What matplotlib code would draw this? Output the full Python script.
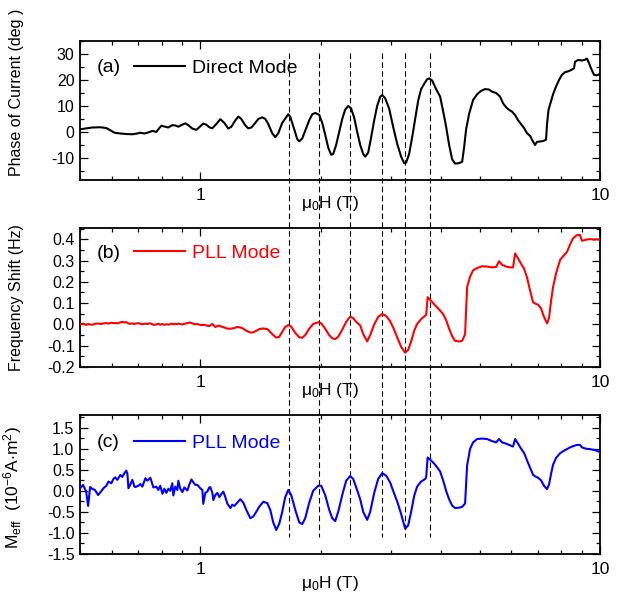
import matplotlib
matplotlib.use("Agg")
import matplotlib.pyplot as plt
from matplotlib.lines import Line2D
from matplotlib import transforms
from matplotlib.ticker import MultipleLocator, FixedLocator, NullFormatter, FormatStrFormatter

# ---------------- data ----------------
# (a) phase of the current, direct mode
field_direct = [
    0.500, 0.515, 0.536, 0.562, 0.582, 0.596, 0.610, 0.631, 0.653, 0.676,
    0.695, 0.708, 0.724, 0.741, 0.759, 0.776, 0.785, 0.799, 0.817, 0.831,
    0.851, 0.866, 0.881, 0.901, 0.917, 0.933, 0.955, 0.977, 0.994, 1.017,
    1.035, 1.053, 1.071, 1.096, 1.122, 1.148, 1.175, 1.196, 1.224, 1.245,
    1.266, 1.296, 1.318, 1.342, 1.373, 1.397, 1.429, 1.454, 1.480, 1.513,
    1.540, 1.567, 1.603, 1.660, 1.679, 1.718, 1.748, 1.768, 1.799, 1.830,
    1.873, 1.906, 1.939, 1.984, 2.018, 2.053, 2.089, 2.125, 2.150, 2.187,
    2.225, 2.265, 2.304, 2.345, 2.385, 2.426, 2.469, 2.512, 2.556, 2.585,
    2.630, 2.676, 2.723, 2.770, 2.818, 2.851, 2.900, 2.968, 3.037, 3.108,
    3.180, 3.236, 3.273, 3.330, 3.389, 3.448, 3.508, 3.568, 3.631, 3.694,
    3.737, 3.802, 3.890, 3.981, 4.050, 4.121, 4.193, 4.266, 4.340, 4.441,
    4.519, 4.571, 4.624, 4.705, 4.814, 4.927, 5.041, 5.158, 5.278, 5.370,
    5.496, 5.623, 5.721, 5.821, 5.922, 6.026, 6.131, 6.238, 6.346, 6.457,
    6.569, 6.683, 6.760, 6.878, 6.958, 7.079, 7.202, 7.328, 7.370, 7.434,
    7.499, 7.630, 7.763, 7.898, 8.035, 8.175, 8.317, 8.463, 8.610, 8.660,
    8.811, 9.016, 9.173, 9.280, 9.387, 9.495, 9.661, 9.829, 10.00,
]
phase_deg = [
    1.0, 1.3, 1.7, 1.8, 1.5, 0.6, -0.3, -0.6, -0.8, -0.9,
    -0.6, -0.3, -0.6, -0.2, 0.4, 0.0, 1.0, 2.4, 2.0, 1.7,
    2.6, 2.5, 2.0, 2.8, 3.3, 2.6, 1.3, 0.8, 1.8, 3.2,
    2.8, 1.8, 1.4, 3.0, 4.9, 3.5, 1.3, 2.0, 4.5, 5.9,
    5.0, 2.5, 1.4, 1.7, 3.5, 5.0, 5.6, 5.0, 3.0, -0.5,
    -2.0, -0.5, 3.5, 6.8, 5.8, 1.0, -2.8, -3.6, -2.5, 0.5,
    4.5, 6.8, 7.3, 6.6, 3.5, -1.0, -6.0, -8.8, -8.5, -5.0,
    0.0, 5.0, 8.6, 10.0, 9.0, 5.5, 0.0, -5.0, -8.5, -9.5,
    -8.0, -2.0, 4.5, 10.0, 13.5, 14.2, 13.0, 9.0, 2.0, -4.5,
    -9.5, -12.0, -11.8, -8.5, -2.0, 5.0, 12.0, 16.5, 18.5, 20.3,
    20.6, 19.8, 16.5, 13.6, 8.0, 2.0, -5.0, -10.5, -12.2, -12.0,
    -11.5, -6.0, 1.0, 7.0, 12.3, 14.5, 15.8, 16.5, 16.3, 15.5,
    15.0, 13.6, 11.0, 9.5, 8.5, 7.8, 6.5, 4.5, 3.0, 1.5,
    -0.5, -1.5, -3.0, -5.0, -3.8, -3.7, -3.5, -3.0, 3.0, 8.5,
    10.5, 14.5, 17.5, 20.0, 22.0, 23.0, 23.3, 23.8, 24.5, 27.0,
    27.7, 27.5, 27.8, 28.2, 26.5, 24.5, 22.0, 21.8, 22.3,
]

# (b), (c) PLL mode: frequency shift and effective moment
field_pll = [
    0.500, 0.509, 0.518, 0.524, 0.530, 0.536, 0.545, 0.555, 0.566, 0.572,
    0.582, 0.589, 0.599, 0.606, 0.613, 0.620, 0.631, 0.638, 0.646, 0.653,
    0.657, 0.661, 0.668, 0.676, 0.684, 0.688, 0.700, 0.708, 0.716, 0.729,
    0.737, 0.750, 0.759, 0.763, 0.776, 0.785, 0.794, 0.804, 0.813, 0.822,
    0.832, 0.841, 0.851, 0.856, 0.866, 0.876, 0.881, 0.891, 0.902, 0.912,
    0.928, 0.939, 0.950, 0.961, 0.972, 0.983, 1.000, 1.012, 1.017, 1.029,
    1.041, 1.053, 1.059, 1.072, 1.078, 1.090, 1.103, 1.116, 1.128, 1.142,
    1.155, 1.168, 1.189, 1.202, 1.216, 1.237, 1.259, 1.281, 1.303, 1.334,
    1.357, 1.380, 1.404, 1.437, 1.471, 1.496, 1.522, 1.549, 1.576, 1.603,
    1.631,
    1.660, 1.688, 1.728, 1.768, 1.799, 1.830, 1.873, 1.916, 1.972, 2.007,
    2.053, 2.101, 2.138, 2.175, 2.213, 2.265, 2.317, 2.371, 2.413, 2.455,
    2.512, 2.556, 2.615, 2.661, 2.723, 2.786, 2.851, 2.917, 2.985, 3.037,
    3.108, 3.180, 3.255, 3.311, 3.369, 3.428, 3.487, 3.568, 3.652, 3.673,
    3.705, 3.780, 3.868, 3.981, 4.050, 4.121, 4.193, 4.266, 4.340, 4.441,
    4.519, 4.597, 4.650, 4.732, 4.814, 4.927, 5.070, 5.218, 5.370, 5.496,
    5.591, 5.689, 5.821, 5.957, 6.060, 6.131, 6.238, 6.346, 6.457, 6.569,
    6.683, 6.800, 6.918, 6.998, 7.120, 7.244, 7.370, 7.456, 7.542, 7.630,
    7.763, 7.943, 8.082, 8.270, 8.414, 8.561, 8.760, 8.913, 9.016, 9.226,
    9.441, 9.661, 9.829, 10.00,
]
freq_shift_hz = [
    0.000, 0.004, -0.002, 0.002, 0.000, -0.002, 0.003, 0.004, 0.002, 0.005,
    0.006, 0.004, 0.008, 0.006, 0.007, 0.005, 0.010, 0.012, 0.009, 0.011,
    0.008, 0.004, 0.003, 0.005, 0.002, 0.004, 0.006, 0.003, 0.001, 0.004,
    0.002, 0.005, 0.001, -0.002, 0.000, 0.003, -0.001, 0.002, -0.002, 0.001,
    -0.001, 0.002, 0.004, 0.000, 0.003, 0.001, 0.004, 0.002, 0.000, 0.003,
    0.006, 0.009, 0.007, 0.003, 0.001, 0.002, -0.002, -0.004, -0.001, -0.003,
    -0.006, -0.008, -0.004, 0.002, -0.002, -0.012, -0.008, -0.006, -0.010, -0.013,
    -0.016, -0.020, -0.020, -0.019, -0.017, -0.012, -0.014, -0.020, -0.030, -0.038,
    -0.037, -0.030, -0.022, -0.019, -0.022, -0.035, -0.050, -0.062, -0.058, -0.035,
    -0.012,
    -0.003, -0.010, -0.040, -0.060, -0.063, -0.050, -0.020, 0.002, 0.010, 0.005,
    -0.020, -0.050, -0.065, -0.069, -0.058, -0.025, 0.012, 0.036, 0.030, 0.012,
    -0.005, -0.045, -0.080, -0.050, 0.000, 0.035, 0.049, 0.040, 0.015, -0.014,
    -0.060, -0.105, -0.133, -0.120, -0.080, -0.030, 0.002, 0.025, 0.041, 0.045,
    0.128, 0.110, 0.090, 0.065, 0.049, 0.020, -0.020, -0.055, -0.077, -0.080,
    -0.077, -0.046, 0.175, 0.225, 0.254, 0.265, 0.273, 0.272, 0.268, 0.270,
    0.297, 0.280, 0.272, 0.268, 0.268, 0.333, 0.310, 0.285, 0.262, 0.220,
    0.160, 0.104, 0.096, 0.093, 0.075, 0.035, 0.005, 0.030, 0.110, 0.175,
    0.240, 0.302, 0.320, 0.341, 0.375, 0.405, 0.420, 0.420, 0.393, 0.398,
    0.401, 0.398, 0.400, 0.397,
]
m_eff = [
    0.06, 0.14, -0.02, -0.36, 0.09, 0.05, 0.02, -0.10, 0.00, 0.06,
    0.12, 0.22, 0.18, 0.28, 0.32, 0.26, 0.38, 0.33, 0.42, 0.48,
    0.40, 0.06, 0.15, 0.26, 0.10, 0.09, 0.12, 0.16, 0.10, 0.30,
    0.24, 0.31, 0.15, 0.08, 0.10, 0.02, 0.12, -0.07, 0.05, -0.05,
    0.05, 0.00, 0.18, -0.11, 0.10, 0.02, 0.24, 0.05, -0.03, 0.08,
    0.01, 0.15, 0.27, 0.20, 0.14, 0.14, 0.06, 0.02, -0.31, -0.05,
    -0.02, 0.08, 0.09, -0.05, -0.22, -0.10, -0.05, -0.15, -0.08, -0.02,
    -0.15, -0.30, -0.41, -0.33, -0.36, -0.28, -0.20, -0.28, -0.45, -0.65,
    -0.61, -0.50, -0.38, -0.26, -0.29, -0.45, -0.75, -0.93, -0.78, -0.50,
    -0.15,
    0.02, -0.10, -0.45, -0.75, -0.79, -0.65, -0.28, 0.00, 0.12, 0.12,
    -0.10, -0.45, -0.65, -0.72, -0.50, -0.10, 0.24, 0.35, 0.28, 0.08,
    -0.20, -0.50, -0.69, -0.50, -0.05, 0.28, 0.42, 0.36, 0.20, 0.00,
    -0.25, -0.55, -0.90, -0.82, -0.50, -0.12, 0.10, 0.22, 0.28, 0.32,
    0.79, 0.72, 0.62, 0.46, 0.25, 0.00, -0.20, -0.35, -0.41, -0.40,
    -0.38, -0.30, 0.60, 1.00, 1.15, 1.23, 1.24, 1.23, 1.18, 1.15,
    1.23, 1.15, 1.12, 1.08, 1.05, 1.23, 1.12, 1.00, 0.90, 0.72,
    0.55, 0.38, 0.33, 0.31, 0.25, 0.12, 0.04, 0.15, 0.40, 0.62,
    0.78, 0.89, 0.94, 0.99, 1.03, 1.06, 1.09, 1.09, 1.03, 1.00,
    0.99, 0.97, 0.95, 0.92,
]

# oscillation extrema marked across all panels
marker_fields = [1.666, 1.976, 2.371, 2.856, 3.254, 3.758]

panel_tags = ["(a)", "(b)", "(c)"]
legend_labels = ["Direct Mode", "PLL Mode", "PLL Mode"]
y_labels = ["Phase of Current (deg )", "Frequency Shift (Hz)",
            r"M$_{\rm eff}$  (10$^{-6}$A$\cdot$m$^{2}$)"]
x_label = r"μ$_0$H (T)"
x_tick_values = [1, 10]

# ---------------- styling ----------------
plt.rcParams['font.family'] = ['Liberation Sans', 'DejaVu Sans']
plt.rcParams['mathtext.fontset'] = 'custom'
plt.rcParams['mathtext.rm'] = 'Liberation Sans'
plt.rcParams['mathtext.it'] = 'Liberation Sans:italic'
plt.rcParams['mathtext.bf'] = 'Liberation Sans:bold'
plt.rcParams['axes.unicode_minus'] = False

fig = plt.figure(figsize=(6.23, 5.95), dpi=100)
fig.patch.set_facecolor('white')

L, W, H = 80 / 623, 520 / 623, 139 / 595
ax_a = fig.add_axes([L, 415 / 595, W, H])
ax_b = fig.add_axes([L, 228 / 595, W, H])
ax_c = fig.add_axes([L, 41 / 595, W, H])
axes = [ax_a, ax_b, ax_c]

series = [(field_direct, phase_deg, 'black'),
          (field_pll, freq_shift_hz, '#ff0000'),
          (field_pll, m_eff, '#0000ff')]
ylims = [(-18.5, 35), (-0.2, 0.453), (-1.5, 1.8)]
ymajor = [10, 0.1, 0.5]
yminor = [5, 0.05, 0.25]
yfmt = ['%d', '%.1f', '%.1f']
tag_y = [0.806, 0.82, 0.80]
xlab_y = [-0.17, -0.17, -0.215]
ylab_pos = [(-0.108, 0.63), (-0.108, 0.50), (-0.108, 0.48)]
ylab_size = [11.5, 11.5, 12.5]

minor_x = [0.5, 0.6, 0.7, 0.8, 0.9, 2, 3, 4, 5, 6, 7, 8, 9]

for i, ax in enumerate(axes):
    xs, ys, col = series[i]
    ax.set_facecolor('none')
    ax.plot(xs, ys, color=col, lw=1.5, label=legend_labels[i], zorder=3)
    ax.set_xscale('log')
    ax.set_xlim(0.5, 10)
    ax.set_ylim(*ylims[i])

    ax.xaxis.set_major_locator(FixedLocator(x_tick_values))
    ax.xaxis.set_major_formatter(FormatStrFormatter('%g'))
    ax.xaxis.set_minor_locator(FixedLocator(minor_x))
    ax.xaxis.set_minor_formatter(NullFormatter())
    ax.yaxis.set_major_locator(MultipleLocator(ymajor[i]))
    ax.yaxis.set_minor_locator(MultipleLocator(yminor[i]))
    ax.yaxis.set_major_formatter(FormatStrFormatter(yfmt[i]))

    ax.tick_params(which='both', direction='in', top=True, right=True, width=0.9)
    ax.tick_params(which='major', length=5.5)
    ax.tick_params(which='minor', length=3)
    ax.tick_params(axis='x', which='major', labelsize=12.5, pad=6)
    ax.tick_params(axis='y', which='major', labelsize=11.5, pad=4)
    for sp in ax.spines.values():
        sp.set_linewidth(1.3)

    ax.set_xlabel(x_label, fontsize=12.5)
    ax.xaxis.set_label_coords(0.48, xlab_y[i])
    ax.xaxis.label.set_verticalalignment('center')
    ax.set_ylabel(y_labels[i], fontsize=ylab_size[i])
    ax.yaxis.set_label_coords(*ylab_pos[i])

    ax.text(17 / 520, tag_y[i], panel_tags[i], transform=ax.transAxes,
            fontsize=14, va='center', ha='left', color='black')
    ax.legend(loc='center left', bbox_to_anchor=(54 / 520, tag_y[i]),
              frameon=False, fontsize=14, handlelength=2.6, handletextpad=0.4,
              borderpad=0, borderaxespad=0, labelcolor='linecolor')

# vertical dashed guide lines spanning all three panels
blend = transforms.blended_transform_factory(ax_c.transData, fig.transFigure)
for xv in marker_fields:
    fig.add_artist(Line2D([xv, xv], [1 - 53 / 595, 1 - 537 / 595], transform=blend,
                          color='black', lw=0.8, ls=(0, (5, 3)), zorder=-1))

fig.savefig('out.png', dpi=100, facecolor='white')
